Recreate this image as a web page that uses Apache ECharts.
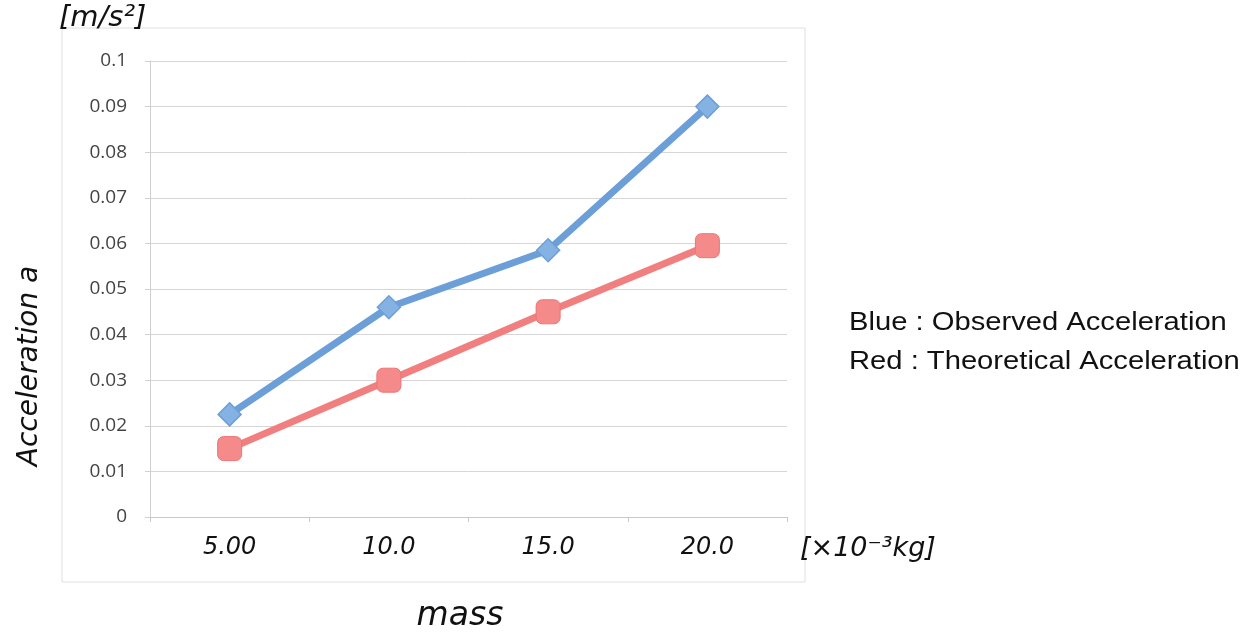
<!DOCTYPE html>
<html>
<head>
<meta charset="utf-8">
<script src="https://cdn.jsdelivr.net/npm/echarts@6/dist/echarts.min.js"></script>
<style>html,body{margin:0;padding:0;background:#fff}#c{width:1248px;height:637px}</style>
</head>
<body>
<div id="c"></div>
<script>
const categories = ['5.00', '10.0', '15.0', '20.0'];
const observed = [0.0225, 0.046, 0.0585, 0.09];
const theoretical = [0.015, 0.030, 0.045, 0.0595];
const yTicks = { min: 0, max: 0.1, interval: 0.01 };

const chart = echarts.init(document.getElementById('c'), null, { renderer: 'canvas' });
const hand = { fontFamily: 'DejaVu Sans', fontStyle: 'italic', fill: '#111' };
chart.setOption({
  animation: false,
  backgroundColor: '#fff',
  grid: { left: 150, right: 461, top: 61, bottom: 120 },
  xAxis: {
    type: 'category',
    data: categories,
    boundaryGap: true,
    axisLine: { lineStyle: { color: '#c8c8c8', width: 1 } },
    axisTick: { show: true, length: 5, lineStyle: { color: '#c8c8c8' } },
    axisLabel: { margin: 19, fontSize: 24, fontStyle: 'italic', fontFamily: 'DejaVu Sans', color: '#111' }
  },
  yAxis: {
    type: 'value',
    min: yTicks.min, max: yTicks.max, interval: yTicks.interval,
    axisLine: { show: true, lineStyle: { color: '#d0d0d0' } },
    axisTick: { show: true, length: 5, lineStyle: { color: '#d0d0d0' } },
    splitLine: { lineStyle: { color: '#d6d6d6', width: 1 } },
    axisLabel: {
      margin: 23, fontSize: 19, color: '#444', fontFamily: 'Open Sans',
      formatter: v => String(+v.toFixed(2))
    }
  },
  series: [
    {
      name: 'Observed', type: 'line', data: observed,
      symbol: 'diamond', symbolSize: 23,
      lineStyle: { color: '#6c9fd8', width: 7 },
      itemStyle: { color: '#84b2e3', borderColor: '#6c9fd8', borderWidth: 1.5 },
      z: 3
    },
    {
      name: 'Theoretical', type: 'line', data: theoretical,
      symbol: 'roundRect', symbolSize: 24,
      lineStyle: { color: '#f27f7f', width: 7 },
      itemStyle: { color: '#f48a8a', borderColor: '#ef7474', borderWidth: 1 },
      z: 2
    }
  ],
  graphic: [
    { type: 'rect', shape: { x: 62, y: 28, width: 743, height: 554 }, style: { fill: 'none', stroke: '#e0e0e0', lineWidth: 1 }, z: -1, silent: true },
    { type: 'text', x: 59, y: 4, style: Object.assign({ text: '[m/s²]', fontSize: 29 }, hand) },
    { type: 'text', x: 30, y: 366, rotation: Math.PI / 2, style: Object.assign({ text: 'Acceleration a', fontSize: 28, align: 'center', verticalAlign: 'middle' }, hand) },
    { type: 'text', x: 460, y: 616, style: Object.assign({ text: 'mass', fontSize: 33, align: 'center', verticalAlign: 'middle' }, hand) },
    { type: 'text', x: 800, y: 549, style: Object.assign({ text: '[×10⁻³kg]', fontSize: 27, verticalAlign: 'middle' }, hand) },
    { type: 'text', x: 849, y: 323, scaleX: 1.167, style: { text: 'Blue : Observed Acceleration', fontSize: 25, fontFamily: 'Liberation Sans', fill: '#111', verticalAlign: 'middle' } },
    { type: 'text', x: 849, y: 362, scaleX: 1.167, style: { text: 'Red : Theoretical Acceleration', fontSize: 25, fontFamily: 'Liberation Sans', fill: '#111', verticalAlign: 'middle' } }
  ]
});
</script>
</body>
</html>
